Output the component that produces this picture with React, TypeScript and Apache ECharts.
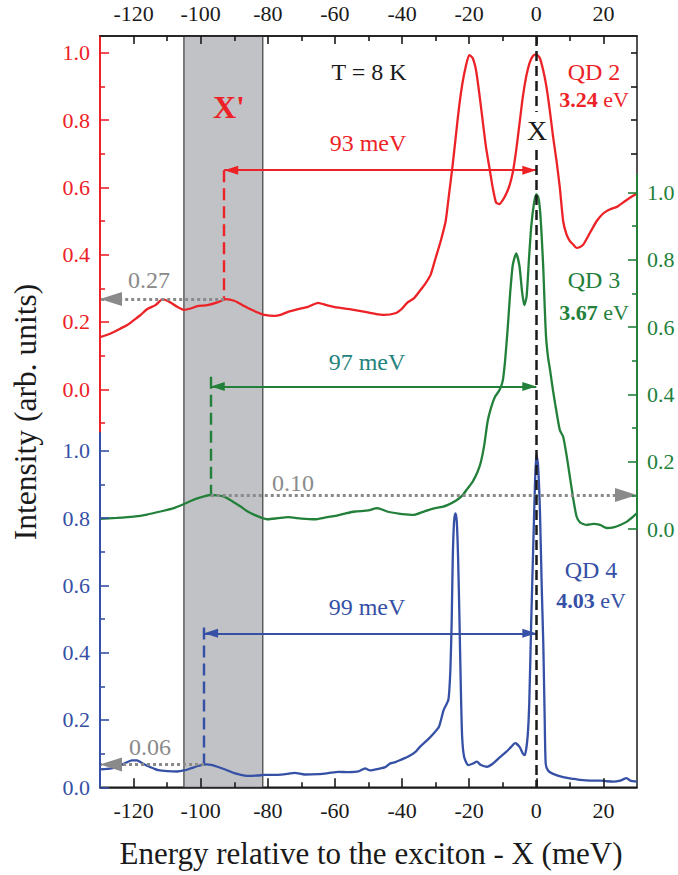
import React, { useEffect, useRef } from 'react';
import * as echarts from 'echarts';

// ---------- data (energy relative to X in meV, normalized intensity) ----------
const qd2Energy = [-130, -127, -124, -122, -120, -118, -116, -113.5, -111.3, -109, -107, -105, -103, -101, -98, -95, -92.5, -90, -87.5, -85, -83, -81, -78, -76, -74, -71, -68, -65, -62.5, -60, -57, -54.4, -51, -48, -45.4, -42, -40, -38.5, -36.5, -34.5, -33, -31.5, -30, -28.5, -27, -26, -25, -24, -23, -22, -21, -20, -19, -18, -17, -16, -15, -14, -13, -12, -11, -10, -9, -8, -7, -6, -5, -4, -3, -2, -1, 0, 1, 2, 3, 4, 5, 6, 7, 8, 9, 10, 11, 12, 13, 14, 16, 18, 20, 22, 24, 26, 28, 30];
const qd2Intensity = [0.155, 0.165, 0.18, 0.19, 0.205, 0.22, 0.238, 0.25, 0.268, 0.258, 0.245, 0.236, 0.24, 0.247, 0.25, 0.258, 0.268, 0.263, 0.25, 0.237, 0.228, 0.221, 0.218, 0.222, 0.23, 0.238, 0.245, 0.257, 0.25, 0.244, 0.24, 0.236, 0.23, 0.224, 0.221, 0.226, 0.24, 0.257, 0.27, 0.295, 0.315, 0.34, 0.39, 0.44, 0.5, 0.58, 0.66, 0.75, 0.84, 0.91, 0.96, 0.993, 0.985, 0.95, 0.88, 0.8, 0.72, 0.66, 0.6, 0.555, 0.55, 0.562, 0.58, 0.605, 0.645, 0.71, 0.79, 0.87, 0.93, 0.97, 0.99, 0.995, 0.985, 0.95, 0.9, 0.83, 0.75, 0.68, 0.6, 0.5, 0.46, 0.44, 0.43, 0.42, 0.423, 0.43, 0.465, 0.5, 0.523, 0.535, 0.542, 0.556, 0.57, 0.582];

const qd3Energy = [-130, -125, -120, -116, -112, -108, -105, -103, -101, -99, -97, -95, -93, -90.5, -88, -86, -84, -82, -80, -77, -74, -70, -66, -63, -60, -57, -54, -50, -47.5, -46, -44.5, -41, -38, -36.5, -34, -31, -28, -26.5, -24, -22, -20.5, -19, -17.5, -16.5, -15.5, -14.5, -13.5, -12.3, -11, -10, -9.3, -8.5, -7.8, -7, -6, -5, -4.3, -3.6, -2.9, -2.2, -1.5, -0.7, 0, 0.6, 1.1, 1.6, 2.1, 2.5, 2.9, 3.5, 4.1, 5, 5.6, 7, 8, 9, 10, 11, 12, 13, 15, 17, 19, 21, 23, 25, 27, 29, 30];
const qd3Intensity = [0.03, 0.033, 0.037, 0.043, 0.052, 0.062, 0.074, 0.083, 0.091, 0.097, 0.101, 0.1, 0.096, 0.082, 0.066, 0.052, 0.042, 0.034, 0.029, 0.032, 0.035, 0.031, 0.029, 0.034, 0.039, 0.046, 0.052, 0.055, 0.062, 0.058, 0.052, 0.046, 0.043, 0.042, 0.05, 0.06, 0.066, 0.071, 0.084, 0.1, 0.12, 0.14, 0.17, 0.2, 0.25, 0.32, 0.36, 0.393, 0.412, 0.44, 0.5, 0.6, 0.7, 0.785, 0.819, 0.78, 0.71, 0.665, 0.69, 0.8, 0.9, 0.967, 0.995, 0.985, 0.948, 0.87, 0.769, 0.66, 0.571, 0.51, 0.472, 0.41, 0.373, 0.294, 0.274, 0.22, 0.155, 0.09, 0.037, 0.02, 0.012, 0.015, 0.012, 0.003, 0.005, 0.012, 0.022, 0.038, 0.047];

const qd4Energy = [-130, -126.6, -124.5, -122.7, -120.5, -119, -117.5, -116, -114, -112.7, -110, -107, -105, -103, -100.5, -98.4, -96.5, -95, -92.5, -90, -88, -86, -83, -81, -77, -74, -72, -69, -65, -62, -59, -56, -53, -51, -49.5, -47, -45, -43.5, -42, -40.5, -38, -36, -34.6, -32.5, -30.6, -29, -27.6, -26.2, -25.6, -25.2, -24.9, -24.5, -24.1, -23.7, -23.3, -22.9, -22.5, -22.1, -21.5, -20.3, -19, -17.7, -16.5, -14.7, -13, -11, -9, -7.5, -6.3, -5, -4, -3.4, -2.6, -2.1, -1.5, -0.9, -0.4, 0, 0.5, 1.1, 1.6, 2.1, 2.5, 2.8, 3.5, 5, 8, 11, 13, 16, 19, 21, 23, 25, 26.9, 28, 30];
const qd4Intensity = [0.053, 0.056, 0.062, 0.071, 0.08, 0.08, 0.072, 0.064, 0.056, 0.051, 0.048, 0.047, 0.05, 0.056, 0.064, 0.068, 0.066, 0.061, 0.052, 0.042, 0.037, 0.034, 0.035, 0.037, 0.037, 0.04, 0.043, 0.038, 0.039, 0.042, 0.046, 0.045, 0.047, 0.056, 0.05, 0.055, 0.06, 0.071, 0.075, 0.081, 0.092, 0.105, 0.121, 0.14, 0.16, 0.18, 0.23, 0.26, 0.35, 0.5, 0.68, 0.79, 0.814, 0.79, 0.68, 0.5, 0.3, 0.15, 0.09, 0.066, 0.07, 0.076, 0.066, 0.061, 0.07, 0.088, 0.105, 0.12, 0.131, 0.12, 0.1, 0.096, 0.15, 0.25, 0.5, 0.72, 0.9, 0.99, 0.96, 0.814, 0.6, 0.418, 0.2, 0.07, 0.05, 0.04, 0.03, 0.025, 0.022, 0.02, 0.02, 0.018, 0.017, 0.02, 0.027, 0.02, 0.017];

// annotations
const shadeRange = [-105, -81.5];
const xPrimeEnergy = [-93, -97, -99];          // QD2, QD3, QD4
const xPrimePeak = [0.268, 0.101, 0.068];
const xPrimeLabel = ['0.27', '0.10', '0.06'];
const arrowLevel = [0.651, 0.423, 0.4575];
const dashTop = [0.651, 0.452, 0.475];
const qdNames = ['QD 2', 'QD 3', 'QD 4'];
const qdEnergies = ['3.24', '3.67', '4.03'];
const xMajorTicks = [-120, -100, -80, -60, -40, -20, 0, 20];
const xMinorTicks = [-110, -90, -70, -50, -30, -10, 10];
const yMajorTicks = [0, 0.2, 0.4, 0.6, 0.8, 1.0];
const redMinorTicks = [-0.1, 0.1, 0.3, 0.5, 0.7, 0.9];
const yMinorTicks = [0.1, 0.3, 0.5, 0.7, 0.9];
const rightRedTicks = [0.7, 0.8, 0.9, 1.0];

// ---------- layout ----------
const L = 100, R = 637, T = 36, B = 787.3;
const PX = 336.6; // px per intensity unit
const RED0 = 389.3, GREEN0 = 529, BLUE0 = B;
const RED_SPLIT = 433, GREEN_TOP = 175;

const RED = '#ec2227';
const GREEN = '#23803a';
const BLUE = '#3550a5';
const TEAL = '#24837c';
const GRAY = '#8a8a8a';
const INK = '#1a1a1a';
const F = 'Liberation Serif, Times New Roman, serif';

const toV = (zeroPx: number, px: number) => (zeroPx - px) / PX;

function zip(a: number[], b: number[]) {
  return a.map((x, i) => [x, b[i]]);
}

function hiddenX(grid: number) {
  return { type: 'value', gridIndex: grid, min: -130, max: 30, show: false };
}

function tickAxis(o: any) {
  return { type: 'value', z: 10, splitLine: { show: false }, ...o };
}

function markSeries(yIdx: number, markLine: any, z = 5) {
  return {
    type: 'line',
    xAxisIndex: 0,
    yAxisIndex: yIdx,
    data: [],
    silent: true,
    z,
    markLine: { silent: true, animation: false, label: { show: false }, ...markLine },
  };
}

function buildOption() {
  const grids = [
    { left: L, top: T, width: R - L, height: B - T, show: true, borderColor: INK, borderWidth: 1.5, backgroundColor: 'transparent', outerBoundsMode: 'none' },
    { left: L, top: T, width: R - L, height: RED_SPLIT - T, outerBoundsMode: 'none' },
    { left: L, top: RED_SPLIT, width: R - L, height: B - RED_SPLIT, outerBoundsMode: 'none' },
    { left: L, top: GREEN_TOP, width: R - L, height: GREEN0 - GREEN_TOP, outerBoundsMode: 'none' },
    { left: L, top: T, width: R - L, height: GREEN_TOP - T, outerBoundsMode: 'none' },
  ];

  const xLabel = { color: INK, fontSize: 22, fontFamily: F, margin: 12, customValues: xMajorTicks };
  const xAxes = [
    tickAxis({
      gridIndex: 0, position: 'bottom', min: -130, max: 30,
      axisLine: { onZero: false, lineStyle: { color: INK, width: 1.6 } },
      axisTick: { inside: true, length: 9, customValues: xMajorTicks, lineStyle: { color: INK, width: 1.6 } },
      axisLabel: xLabel,
    }),
    tickAxis({
      gridIndex: 0, position: 'bottom', min: -130, max: 30,
      axisLine: { show: false, onZero: false },
      axisTick: { inside: true, length: 5, customValues: xMinorTicks, lineStyle: { color: INK, width: 1.6 } },
      axisLabel: { show: false },
    }),
    tickAxis({
      gridIndex: 0, position: 'top', min: -130, max: 30,
      axisLine: { onZero: false, lineStyle: { color: INK, width: 1.6 } },
      axisTick: { inside: true, length: 8, customValues: xMajorTicks, lineStyle: { color: INK, width: 1.6 } },
      axisLabel: xLabel,
    }),
    tickAxis({
      gridIndex: 0, position: 'top', min: -130, max: 30,
      axisLine: { show: false, onZero: false },
      axisTick: { inside: true, length: 5, customValues: xMinorTicks, lineStyle: { color: INK, width: 1.6 } },
      axisLabel: { show: false },
    }),
    hiddenX(1), hiddenX(2), hiddenX(3), hiddenX(4),
  ];

  const yLab = (color: string) => ({
    color, fontSize: 22, fontFamily: F, margin: 10, customValues: yMajorTicks,
    formatter: (v: number) => v.toFixed(1),
  });
  const major = (color: string, len = 9) => ({ inside: true, length: len, customValues: yMajorTicks, lineStyle: { color, width: 1.6 } });
  const minor = (color: string, vals: number[]) => ({ inside: true, length: 5, customValues: vals, lineStyle: { color, width: 1.6 } });

  const redMin = toV(RED0, RED_SPLIT), redMax = toV(RED0, T);
  const yAxes = [
    // data axes (hidden) in main grid
    { type: 'value', gridIndex: 0, position: 'left', min: toV(RED0, B), max: toV(RED0, T), show: false },
    { type: 'value', gridIndex: 0, position: 'left', min: toV(GREEN0, B), max: toV(GREEN0, T), show: false },
    { type: 'value', gridIndex: 0, position: 'left', min: 0, max: toV(BLUE0, T), show: false },
    // red scale (QD 2)
    tickAxis({
      gridIndex: 1, position: 'left', min: redMin, max: redMax,
      axisLine: { onZero: false, lineStyle: { color: RED, width: 2 } },
      axisTick: major(RED), axisLabel: yLab(RED),
    }),
    tickAxis({
      gridIndex: 1, position: 'left', min: redMin, max: redMax,
      axisLine: { show: false, onZero: false },
      axisTick: minor(RED, redMinorTicks), axisLabel: { show: false },
    }),
    // blue scale (QD 4)
    tickAxis({
      gridIndex: 2, position: 'left', min: 0, max: toV(BLUE0, RED_SPLIT),
      axisLine: { onZero: false, lineStyle: { color: BLUE, width: 2 } },
      axisTick: major(BLUE), axisLabel: yLab(BLUE),
    }),
    tickAxis({
      gridIndex: 2, position: 'left', min: 0, max: toV(BLUE0, RED_SPLIT),
      axisLine: { show: false, onZero: false },
      axisTick: minor(BLUE, yMinorTicks), axisLabel: { show: false },
    }),
    // green scale (QD 3)
    tickAxis({
      gridIndex: 3, position: 'right', min: 0, max: toV(GREEN0, GREEN_TOP),
      axisLine: { onZero: false, lineStyle: { color: GREEN, width: 2 } },
      axisTick: major(GREEN), axisLabel: yLab(GREEN),
    }),
    tickAxis({
      gridIndex: 3, position: 'right', min: 0, max: toV(GREEN0, GREEN_TOP),
      axisLine: { show: false, onZero: false },
      axisTick: minor(GREEN, yMinorTicks), axisLabel: { show: false },
    }),
    // mirrored red ticks on right frame
    tickAxis({
      gridIndex: 4, position: 'right', min: toV(RED0, GREEN_TOP), max: redMax,
      axisLine: { show: false, onZero: false },
      axisTick: { inside: true, length: 6, customValues: rightRedTicks, lineStyle: { color: INK, width: 1.6 } },
      axisLabel: { show: false },
    }),
  ];

  const curve = (yIdx: number, color: string, e: number[], v: number[]) => ({
    type: 'line', xAxisIndex: 0, yAxisIndex: yIdx, data: zip(e, v),
    showSymbol: false, symbol: 'none', smooth: 0.2, clip: true, silent: true, z: 3,
    lineStyle: { color, width: 2.3 },
  });

  const colors = [RED, GREEN, BLUE];
  const annotations: any[] = [];
  for (let i = 0; i < 3; i++) {
    const yIdx = i;
    const c = colors[i];
    annotations.push(markSeries(yIdx, {
      symbol: ['triangle', 'triangle'], symbolSize: [9, 14],
      symbolOffset: [[0, '50%'], [0, '50%']],
      lineStyle: { color: c, width: 2.2, type: 'solid' },
      data: [[{ coord: [xPrimeEnergy[i], arrowLevel[i]] }, { coord: [0, arrowLevel[i]] }]],
    }));
    annotations.push(markSeries(yIdx, {
      symbol: ['none', 'none'],
      lineStyle: { color: c, width: 2.4, type: [12, 6] },
      data: [[{ coord: [xPrimeEnergy[i], dashTop[i]] }, { coord: [xPrimeEnergy[i], xPrimePeak[i]] }]],
    }));
    const toAxis = i === 1 ? 30 : -130;
    annotations.push(markSeries(yIdx, {
      symbol: ['none', 'triangle'], symbolSize: [14, 22],
      symbolOffset: [[0, 0], [0, '50%']],
      itemStyle: { color: GRAY },
      lineStyle: { color: GRAY, width: 3, type: [3, 3] },
      data: [[{ coord: [xPrimeEnergy[i], xPrimePeak[i]] }, { coord: [toAxis, xPrimePeak[i]] }]],
    }, 6));
  }
  // exciton line X at 0 (blue-scale units), with gap for the label
  annotations.push(markSeries(2, {
    symbol: ['none', 'none'],
    lineStyle: { color: INK, width: 2.5, type: [10, 5] },
    data: [
      [{ coord: [0, toV(BLUE0, T)] }, { coord: [0, toV(BLUE0, 112)] }],
      [{ coord: [0, toV(BLUE0, 150)] }, { coord: [0, 0] }],
    ],
  }, 4));

  const shade = {
    type: 'line', xAxisIndex: 0, yAxisIndex: 2, data: [], silent: true, z: 1,
    markArea: {
      silent: true,
      itemStyle: { color: '#c1c2c6', borderColor: '#4a4a4a', borderWidth: 1.3 },
      data: [[{ xAxis: shadeRange[0] }, { xAxis: shadeRange[1] }]],
    },
  };

  const txt = (text: string, x: number, y: number, fill: string, size: number, extra: any = {}) => ({
    type: 'text', x, y, z: 20, silent: true,
    style: { text, fill, fontSize: size, fontFamily: F, align: 'center', verticalAlign: 'middle', ...extra },
  });
  const evTxt = (val: string, x: number, y: number, fill: string) => ({
    type: 'text', x, y, z: 20, silent: true,
    style: {
      text: `{b|${val}} eV`, fill, fontSize: 22, fontFamily: F, align: 'center', verticalAlign: 'middle',
      rich: { b: { fontWeight: 'bold', fill, fontSize: 22, fontFamily: F } },
    },
  });

  const graphic = [
    txt('T = 8 K', 369, 72, INK, 24),
    txt("X'", 229, 107, RED, 32, { fontWeight: 'bold' }),
    txt(`${-xPrimeEnergy[0]} meV`, 368, 143, RED, 24),
    txt('X', 537, 130, INK, 28),
    txt(qdNames[0], 594, 72, RED, 24),
    evTxt(qdEnergies[0], 594, 99, RED),
    txt(qdNames[1], 594, 280, GREEN, 24),
    evTxt(qdEnergies[1], 594, 312, GREEN),
    txt(`${-xPrimeEnergy[1]} meV`, 367, 362, TEAL, 24),
    txt(qdNames[2], 591, 570, BLUE, 24),
    evTxt(qdEnergies[2], 591, 600, BLUE),
    txt(`${-xPrimeEnergy[2]} meV`, 367, 607, BLUE, 24),
    txt(xPrimeLabel[0], 149, 280, GRAY, 24),
    txt(xPrimeLabel[1], 293, 483, GRAY, 24),
    txt(xPrimeLabel[2], 150, 747, GRAY, 24),
    txt('Energy relative to the exciton - X (meV)', 371, 853, INK, 31),
    { ...txt('Intensity (arb. units)', 25, 412, INK, 31.5), rotation: Math.PI / 2 },
  ];

  return {
    animation: false,
    backgroundColor: '#ffffff',
    grid: grids,
    xAxis: xAxes,
    yAxis: yAxes,
    series: [
      shade,
      curve(0, RED, qd2Energy, qd2Intensity),
      curve(1, GREEN, qd3Energy, qd3Intensity),
      curve(2, BLUE, qd4Energy, qd4Intensity),
      ...annotations,
    ],
    graphic,
  };
}

export default function App() {
  const ref = useRef<HTMLDivElement>(null);
  useEffect(() => {
    if (!ref.current) return;
    const chart = echarts.init(ref.current, null, { renderer: 'svg' });
    chart.setOption(buildOption() as any);
    return () => chart.dispose();
  }, []);
  return (
    <div
      ref={ref}
      style={{ position: 'absolute', left: 0, top: 0, width: 678, height: 875, background: '#fff' }}
    />
  );
}
